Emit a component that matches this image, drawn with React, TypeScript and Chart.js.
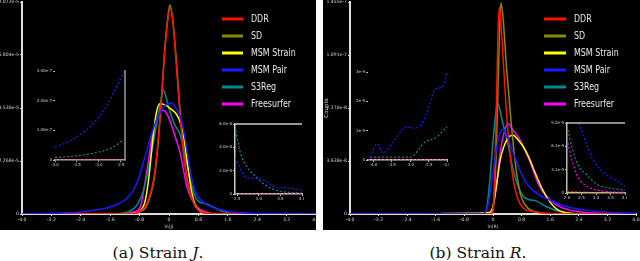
import React, { useEffect, useRef } from "react";
import { Chart, registerables } from "chart.js";
Chart.register(...registerables);

type Pt = [number, number];

// ---------- shared ----------
const seriesNames = ["DDR", "SD", "MSM Strain", "MSM Pair", "S3Reg", "Freesurfer"];
const seriesColors = ["#ff1000", "#8a8a00", "#ffff00", "#1a1aff", "#008b8b", "#ff00ff"];

const mainXTicks = [-4, -3.2, -2.4, -1.6, -0.8, 0, 0.8, 1.6, 2.4, 3.2, 4];
const mainXLabels = ["-4.0", "-3.2", "-2.4", "-1.6", "-0.8", "0", "0.8", "1.6", "2.4", "3.2", "4.0"];

// ---------- panel (a): Strain J, values in 1e-5 ----------
const jYTicks = [0, 2.268, 4.536, 6.804, 9.072];
const jYLabels = ["0", "2.268e-5", "4.536e-5", "6.804e-5", "9.072e-5"];

const jDDR: Pt[] = [[-4, 0], [-1.0, 0], [-0.8, 0.11], [-0.6, 0.44], [-0.4, 1.65], [-0.3, 3.07], [-0.2, 5.05], [-0.1, 7.24], [0, 8.67], [0.04, 8.78], [0.12, 8.0], [0.2, 6.36], [0.3, 4.28], [0.4, 2.52], [0.5, 1.43], [0.65, 0.55], [0.8, 0.16], [1.0, 0.03], [1.3, 0], [4, 0]];
const jSD: Pt[] = [[-4, 0], [-1.0, 0], [-0.8, 0.09], [-0.6, 0.38], [-0.4, 1.54], [-0.3, 2.96], [-0.2, 5.05], [-0.1, 7.35], [0, 8.78], [0.03, 8.94], [0.1, 8.34], [0.2, 6.58], [0.3, 4.39], [0.4, 2.63], [0.5, 1.43], [0.65, 0.55], [0.8, 0.16], [1.0, 0.03], [1.3, 0], [4, 0]];
const jMSMStrain: Pt[] = [[-4, 0], [-1.6, 0], [-1.0, 0.02], [-0.8, 0.11], [-0.65, 0.55], [-0.55, 1.54], [-0.45, 3.07], [-0.35, 4.28], [-0.25, 4.72], [-0.1, 4.66], [0.05, 4.5], [0.2, 4.28], [0.3, 3.95], [0.4, 3.29], [0.5, 2.19], [0.6, 1.1], [0.7, 0.44], [0.85, 0.11], [1.0, 0.02], [1.3, 0], [4, 0]];
const jMSMPair: Pt[] = [[-4, 0], [-3.6, 0.01], [-3.2, 0.03], [-2.8, 0.05], [-2.4, 0.09], [-2.0, 0.17], [-1.6, 0.3], [-1.15, 0.66], [-0.9, 1.21], [-0.7, 2.19], [-0.5, 3.29], [-0.3, 4.17], [-0.1, 4.66], [0.08, 4.75], [0.2, 4.5], [0.35, 3.95], [0.5, 2.63], [0.62, 1.5], [0.75, 0.85], [0.9, 0.55], [1.05, 0.38], [1.4, 0.18], [1.8, 0.07], [2.4, 0.02], [3.2, 0.005], [4, 0]];
const jS3Reg: Pt[] = [[-4, 0], [-1.6, 0], [-1.2, 0.05], [-0.9, 0.33], [-0.7, 0.99], [-0.5, 2.41], [-0.35, 3.73], [-0.22, 4.83], [-0.16, 5.33], [0, 4.5], [0.15, 3.84], [0.3, 3.4], [0.45, 2.41], [0.6, 1.32], [0.76, 0.6], [1.0, 0.44], [1.2, 0.3], [1.5, 0.09], [1.8, 0.01], [2.2, 0], [4, 0]];
const jFreesurfer: Pt[] = [[-4, 0], [-1.2, 0], [-0.95, 0.09], [-0.79, 0.27], [-0.6, 1.86], [-0.46, 3.29], [-0.3, 4.17], [-0.16, 4.44], [-0.02, 4.17], [0.15, 3.4], [0.3, 2.63], [0.49, 1.15], [0.65, 0.55], [0.8, 0.24], [1.0, 0.09], [1.3, 0], [4, 0]];

// inset (a) left tail
const jLoXTicks = [-4.0, -3.5, -3.0, -2.5];
const jLoXLabels = ["-4.0", "-3.5", "-3.0", "-2.5"];
const jLoYTicks = [0, 1, 2, 3];
const jLoYLabels = ["0", "1.00e-7", "2.00e-7", "3.00e-7"];
const jLoZero: Pt[] = [[-4.0, 0], [-2.4, 0]];
const jLoBlue: Pt[] = [[-4.0, 0.44], [-3.75, 0.58], [-3.5, 0.78], [-3.25, 1.05], [-3.0, 1.45], [-2.75, 2.0], [-2.6, 2.45], [-2.43, 2.95]];
const jLoTeal: Pt[] = [[-4.0, 0.08], [-3.45, 0.15], [-3.0, 0.27], [-2.7, 0.41], [-2.43, 0.68]];

// inset (a) right tail
const jHiXTicks = [2.5, 3.0, 3.5, 4.0];
const jHiXLabels = ["2.5", "3.0", "3.5", "4.0"];
const jHiYTicks = [0, 1, 2, 3];
const jHiYLabels = ["0", "2.0e-8", "4.0e-8", "6.0e-8"];
const jHiZero: Pt[] = [[2.45, 0], [4.0, 0]];
const jHiBlue: Pt[] = [[2.45, 1.55], [2.73, 0.69], [3.03, 0.67], [3.2, 0.5], [3.42, 0.26], [3.6, 0.27], [4.0, 0.17]];
const jHiTeal: Pt[] = [[2.45, 2.88], [2.57, 1.8], [2.96, 0.69], [3.38, 0.17], [4.0, 0.04]];

// ---------- panel (b): Strain R, values in 1e-8 ----------
const rYTicks = [0, 3.638, 7.276, 10.914, 14.552];
const rYLabels = ["0", "3.638e-8", "7.276e-8", "1.091e-7", "1.455e-7"];

const rDDR: Pt[] = [[-4, 0], [-0.1, 0], [0, 0.3], [0.05, 3], [0.1, 8], [0.14, 12.5], [0.18, 14.2], [0.22, 13.2], [0.3, 10], [0.4, 6.2], [0.5, 3.6], [0.6, 1.9], [0.7, 1.0], [0.85, 0.4], [1.1, 0.18], [1.5, 0.06], [2.0, 0], [4, 0]];
const rSD: Pt[] = [[-4, 0], [-0.05, 0], [0.03, 1], [0.1, 5], [0.16, 10.5], [0.22, 14.5], [0.28, 13.5], [0.38, 10], [0.5, 6.5], [0.6, 4.0], [0.7, 2.2], [0.8, 1.1], [1.0, 0.35], [1.3, 0.08], [1.6, 0], [4, 0]];
const rMSMStrain: Pt[] = [[-4, 0], [-1.6, 0], [-1.4, 0.03], [-0.6, 0.05], [-0.1, 0.1], [0, 0.5], [0.1, 2.0], [0.2, 3.7], [0.3, 4.6], [0.45, 5.3], [0.56, 5.4], [0.7, 5.1], [0.85, 4.6], [1.0, 3.9], [1.2, 2.7], [1.4, 1.6], [1.6, 0.8], [1.8, 0.3], [2.1, 0.07], [2.5, 0], [4, 0]];
const rMSMPair: Pt[] = [[-4, 0], [-0.3, 0], [-0.15, 0.5], [0, 2.8], [0.1, 4.5], [0.2, 5.6], [0.3, 5.8], [0.4, 5.3], [0.55, 4.3], [0.75, 3.0], [1.0, 1.9], [1.3, 1.3], [1.6, 0.95], [2.0, 0.55], [2.5, 0.3], [3.0, 0.15], [3.5, 0.08], [4.0, 0.04]];
const rS3Reg: Pt[] = [[-4, 0], [-0.3, 0], [-0.2, 0.1], [-0.1, 2.0], [0, 5.0], [0.08, 7.0], [0.14, 7.6], [0.22, 6.8], [0.3, 6.0], [0.4, 5.0], [0.55, 3.2], [0.7, 1.9], [0.85, 1.2], [1.0, 1.0], [1.2, 0.9], [1.5, 0.5], [1.9, 0.15], [2.4, 0.03], [3.0, 0], [4, 0]];
const rFreesurfer: Pt[] = [[-4, 0], [-0.15, 0], [0, 0.5], [0.1, 2.0], [0.2, 4.2], [0.3, 5.5], [0.42, 6.2], [0.55, 5.8], [0.75, 5.1], [1.0, 3.8], [1.3, 1.9], [1.7, 0.75], [2.1, 0.3], [2.6, 0.1], [3.0, 0.05], [3.5, 0.02], [4.0, 0]];

// inset (b) left tail
const rLoXTicks = [-4.0, -3.5, -3.0, -2.5, -2.0];
const rLoXLabels = ["-4.0", "-3.5", "-3.0", "-2.5", "-2.0"];
const rLoYTicks = [0, 1, 2, 3];
const rLoYLabels = ["0", "1e-9", "2e-9", "3e-9"];
const rLoZero: Pt[] = [[-4.15, 0], [-2.0, 0]];
const rLoBlue: Pt[] = [[-4.1, 0.1], [-3.9, 0.55], [-3.74, 0.24], [-3.47, 0.61], [-3.09, 1.13], [-2.92, 1.09], [-2.76, 1.13], [-2.54, 1.64], [-2.32, 2.42], [-2.13, 2.49], [-2.0, 2.97]];
const rLoTeal: Pt[] = [[-4.1, 0.1], [-3.0, 0.1], [-2.6, 0.61], [-2.32, 0.75], [-2.0, 1.13]];

// inset (b) right tail
const rHiXTicks = [2.0, 2.5, 3.0, 3.5, 4.0];
const rHiXLabels = ["2.0", "2.5", "3.0", "3.5", "4.0"];
const rHiYTicks = [0, 1, 2, 3];
const rHiYLabels = ["0", "3.1e-9", "6.1e-9", "9.2e-9"];
const rHiZero: Pt[] = [[2.0, 0], [4.0, 0]];
const rHiRed: Pt[] = [[2.0, 0.06], [2.8, 0.03], [4.0, 0]];
const rHiBlue: Pt[] = [[2.3, 3.5], [2.41, 3.0], [2.62, 2.27], [2.9, 1.42], [3.24, 0.9], [3.55, 0.64], [3.93, 0.34], [4.0, 0.3]];
const rHiTeal: Pt[] = [[2.03, 2.7], [2.17, 1.97], [2.38, 1.2], [2.69, 0.77], [3.07, 0.34], [3.48, 0.21], [3.93, 0.13], [4.0, 0.12]];
const rHiMagenta: Pt[] = [[2.03, 2.14], [2.17, 1.42], [2.34, 0.77], [2.62, 0.34], [3.03, 0.13], [3.93, 0.04], [4.0, 0.04]];

// ---------- plugins ----------
const sideLegendPlugin = {
  id: "sideLegend",
  afterDraw(chart: any, _args: any, opts: any) {
    if (!opts || opts.x === undefined) return;
    const ctx = chart.ctx;
    ctx.save();
    chart.data.datasets.forEach((ds: any, i: number) => {
      const y = opts.y + i * opts.gap;
      ctx.setLineDash([]);
      ctx.strokeStyle = ds.borderColor;
      ctx.lineWidth = 3;
      ctx.beginPath();
      ctx.moveTo(opts.x, y);
      ctx.lineTo(opts.x + opts.len, y);
      ctx.stroke();
      ctx.save();
      ctx.translate(opts.x + opts.len + 8, y);
      ctx.scale(0.72, 1);
      ctx.fillStyle = "#e8e8e8";
      ctx.font = '11px "DejaVu Sans"';
      ctx.textBaseline = "middle";
      ctx.fillText(ds.label, 0, 0.5);
      ctx.restore();
    });
    ctx.restore();
  },
};

const edgePlugin = {
  id: "edges",
  afterDraw(chart: any, _args: any, opts: any) {
    if (!opts) return;
    const { ctx, chartArea: a } = chart;
    ctx.save();
    ctx.setLineDash([]);
    ctx.lineWidth = 1.5;
    if (opts.top) {
      ctx.strokeStyle = opts.top;
      ctx.beginPath();
      ctx.moveTo(a.left, a.top);
      ctx.lineTo(a.right, a.top);
      ctx.stroke();
    }
    if (opts.right) {
      ctx.strokeStyle = opts.right;
      ctx.beginPath();
      ctx.moveTo(a.right, a.top - 1);
      ctx.lineTo(a.right, a.bottom);
      ctx.stroke();
    }
    ctx.restore();
  },
};

function buildConfig(s: any) {
  const tickColor = "#d0d0d0";
  const font = { size: s.fontSize, family: "DejaVu Sans" };
  return {
    type: "line",
    data: {
      datasets: s.series.map((pts: Pt[], i: number) => ({
        label: seriesNames[i],
        data: pts.map(([x, y]) => ({ x, y })),
        borderColor: seriesColors[i],
        backgroundColor: seriesColors[i],
        borderWidth: s.lineWidth,
        borderDash: s.dash || [],
        pointRadius: 0,
        fill: false,
        cubicInterpolationMode: "monotone",
        order: s.orders[i],
      })),
    },
    options: {
      responsive: false,
      maintainAspectRatio: false,
      animation: false,
      events: [],
      layout: { padding: { top: s.padTop, right: s.padRight, left: 0, bottom: 0 } },
      plugins: {
        legend: { display: false },
        tooltip: { enabled: false },
        sideLegend: s.legend || {},
        edges: s.edges || {},
      },
      scales: {
        x: {
          type: "linear",
          min: s.xMin,
          max: s.xMax,
          afterBuildTicks: (sc: any) => {
            sc.ticks = s.xTicks.map((v: number) => ({ value: v }));
          },
          afterFit: (sc: any) => {
            sc.height = s.xHeight;
            sc.paddingLeft = 0;
            sc.paddingRight = 0;
          },
          ticks: {
            autoSkip: false,
            maxRotation: 0,
            minRotation: 0,
            padding: 1,
            color: tickColor,
            font,
            callback: (_v: any, i: number) => s.xLabels[i],
          },
          grid: {
            drawOnChartArea: false,
            drawTicks: true,
            tickLength: s.tickLen,
            color: s.xBorder || "#bbb",
            lineWidth: 1,
          },
          border: { display: !!s.xBorder, color: s.xBorder || "#bbb", width: s.borderWidth },
          title: s.xTitle
            ? { display: true, text: s.xTitle, color: tickColor, font: { size: s.fontSize, family: "DejaVu Sans" }, padding: 0 }
            : { display: false },
        },
        y: {
          type: "linear",
          min: 0,
          max: s.yTicks[s.yTicks.length - 1],
          afterBuildTicks: (sc: any) => {
            sc.ticks = s.yTicks.map((v: number) => ({ value: v }));
          },
          afterFit: (sc: any) => {
            sc.width = s.yWidth;
            sc.paddingTop = 0;
            sc.paddingBottom = 0;
          },
          ticks: {
            autoSkip: false,
            padding: 1,
            color: tickColor,
            font,
            callback: (_v: any, i: number) => s.yLabels[i],
          },
          grid: {
            drawOnChartArea: false,
            drawTicks: true,
            tickLength: s.tickLen,
            color: s.yBorder || "#bbb",
            lineWidth: 1,
          },
          border: { display: !!s.yBorder, color: s.yBorder || "#bbb", width: s.borderWidth },
          title: s.yTitle
            ? { display: true, text: s.yTitle, color: tickColor, font: { size: s.fontSize + 1, family: "DejaVu Sans" }, padding: 0 }
            : { display: false },
        },
      },
    },
    plugins: [sideLegendPlugin, edgePlugin],
  };
}

function ChartBox({ left, top, width, height, spec, bg }: any) {
  const ref = useRef<HTMLCanvasElement>(null);
  useEffect(() => {
    const chart = new Chart(ref.current as HTMLCanvasElement, buildConfig(spec) as any);
    return () => chart.destroy();
  }, []);
  return (
    <div style={{ position: "absolute", left, top, width, height, background: bg || "transparent" }}>
      <canvas ref={ref} width={width} height={height} style={{ display: "block", width, height }} />
    </div>
  );
}

const mainOrders = [1, 2, 3, 0, 4, 5];
const insetOrders = [5, 4, 3, 1, 2, 0];

const panelA = {
  series: [jDDR, jSD, jMSMStrain, jMSMPair, jS3Reg, jFreesurfer],
  orders: mainOrders,
  xMin: -4, xMax: 4, xTicks: mainXTicks, xLabels: mainXLabels,
  yTicks: jYTicks, yLabels: jYLabels,
  yWidth: 22, xHeight: 16, padTop: 2, padRight: 0,
  fontSize: 4.6, lineWidth: 1.5, tickLen: 2, borderWidth: 2,
  xBorder: "#dddddd", yBorder: "#dddddd", xTitle: "ln(J)",
  legend: { x: 222, y: 19, gap: 17, len: 21 },
};

const panelB = {
  series: [rDDR, rSD, rMSMStrain, rMSMPair, rS3Reg, rFreesurfer],
  orders: mainOrders,
  xMin: -4, xMax: 4, xTicks: mainXTicks, xLabels: mainXLabels,
  yTicks: rYTicks, yLabels: rYLabels,
  yWidth: 27, xHeight: 16, padTop: 2, padRight: 4,
  fontSize: 4.6, lineWidth: 1.5, tickLen: 2, borderWidth: 2,
  xBorder: "#dddddd", yBorder: "#dddddd", xTitle: "ln(R)", yTitle: "Counts",
  legend: { x: 221, y: 19, gap: 17, len: 22 },
};

const insetBase = { orders: insetOrders, xHeight: 10, padTop: 4, fontSize: 4, lineWidth: 1.2, dash: [2, 2], tickLen: 2, borderWidth: 1.5 };

const insetALo = {
  ...insetBase,
  series: [jLoZero, jLoZero, jLoZero, jLoBlue, jLoTeal, jLoZero],
  xMin: -4.0, xMax: -2.4, xTicks: jLoXTicks, xLabels: jLoXLabels,
  yTicks: jLoYTicks, yLabels: jLoYLabels,
  yWidth: 19, padRight: 1, xBorder: "#aaaaaa", yBorder: null,
  edges: { right: "#9a9a9a" },
};
const insetAHi = {
  ...insetBase,
  series: [jHiZero, jHiZero, jHiZero, jHiBlue, jHiTeal, jHiZero],
  xMin: 2.45, xMax: 4.0, xTicks: jHiXTicks, xLabels: jHiXLabels,
  yTicks: jHiYTicks, yLabels: jHiYLabels,
  yWidth: 19, padRight: 2, xBorder: "#cccccc", yBorder: "#cccccc",
  edges: { top: "#cccccc" },
};
const insetBLo = {
  ...insetBase,
  series: [rLoZero, rLoZero, rLoZero, rLoBlue, rLoTeal, rLoZero],
  xMin: -4.15, xMax: -2.0, xTicks: rLoXTicks, xLabels: rLoXLabels,
  yTicks: rLoYTicks, yLabels: rLoYLabels,
  yWidth: 16, padRight: 2, xBorder: "#cccccc", yBorder: null,
  edges: {},
};
const insetBHi = {
  ...insetBase,
  series: [rHiRed, rHiZero, rHiZero, rHiBlue, rHiTeal, rHiMagenta],
  xMin: 2.0, xMax: 4.0, xTicks: rHiXTicks, xLabels: rHiXLabels,
  yTicks: rHiYTicks, yLabels: rHiYLabels,
  yWidth: 18, padRight: 2, xBorder: "#bbbbbb", yBorder: "#bbbbbb",
  edges: { top: "#bbbbbb" },
};

const captionStyle: any = {
  position: "absolute",
  top: 243,
  height: 20,
  lineHeight: "20px",
  textAlign: "center",
  fontFamily: '"DejaVu Serif", serif',
  fontSize: "15.5px",
  color: "#111",
  whiteSpace: "nowrap",
};

export default function App() {
  return (
    <div style={{ position: "fixed", left: 0, top: 0, width: 640, height: 261, background: "#fff", overflow: "hidden" }}>
      <ChartBox left={0} top={0} width={316} height={230} spec={panelA} bg="#000" />
      <ChartBox left={36} top={67} width={90} height={103} spec={insetALo} />
      <ChartBox left={216} top={120} width={88} height={84} spec={insetAHi} />
      <ChartBox left={323} top={0} width={317} height={230} spec={panelB} bg="#000" />
      <ChartBox left={352} top={68} width={97} height={102} spec={insetBLo} />
      <ChartBox left={549} top={119} width={78} height={84} spec={insetBHi} />
      <div style={{ ...captionStyle, left: 0, width: 316 }}>
        (a) Strain <i>J</i>.
      </div>
      <div style={{ ...captionStyle, left: 320, width: 316 }}>
        (b) Strain <i>R</i>.
      </div>
    </div>
  );
}
